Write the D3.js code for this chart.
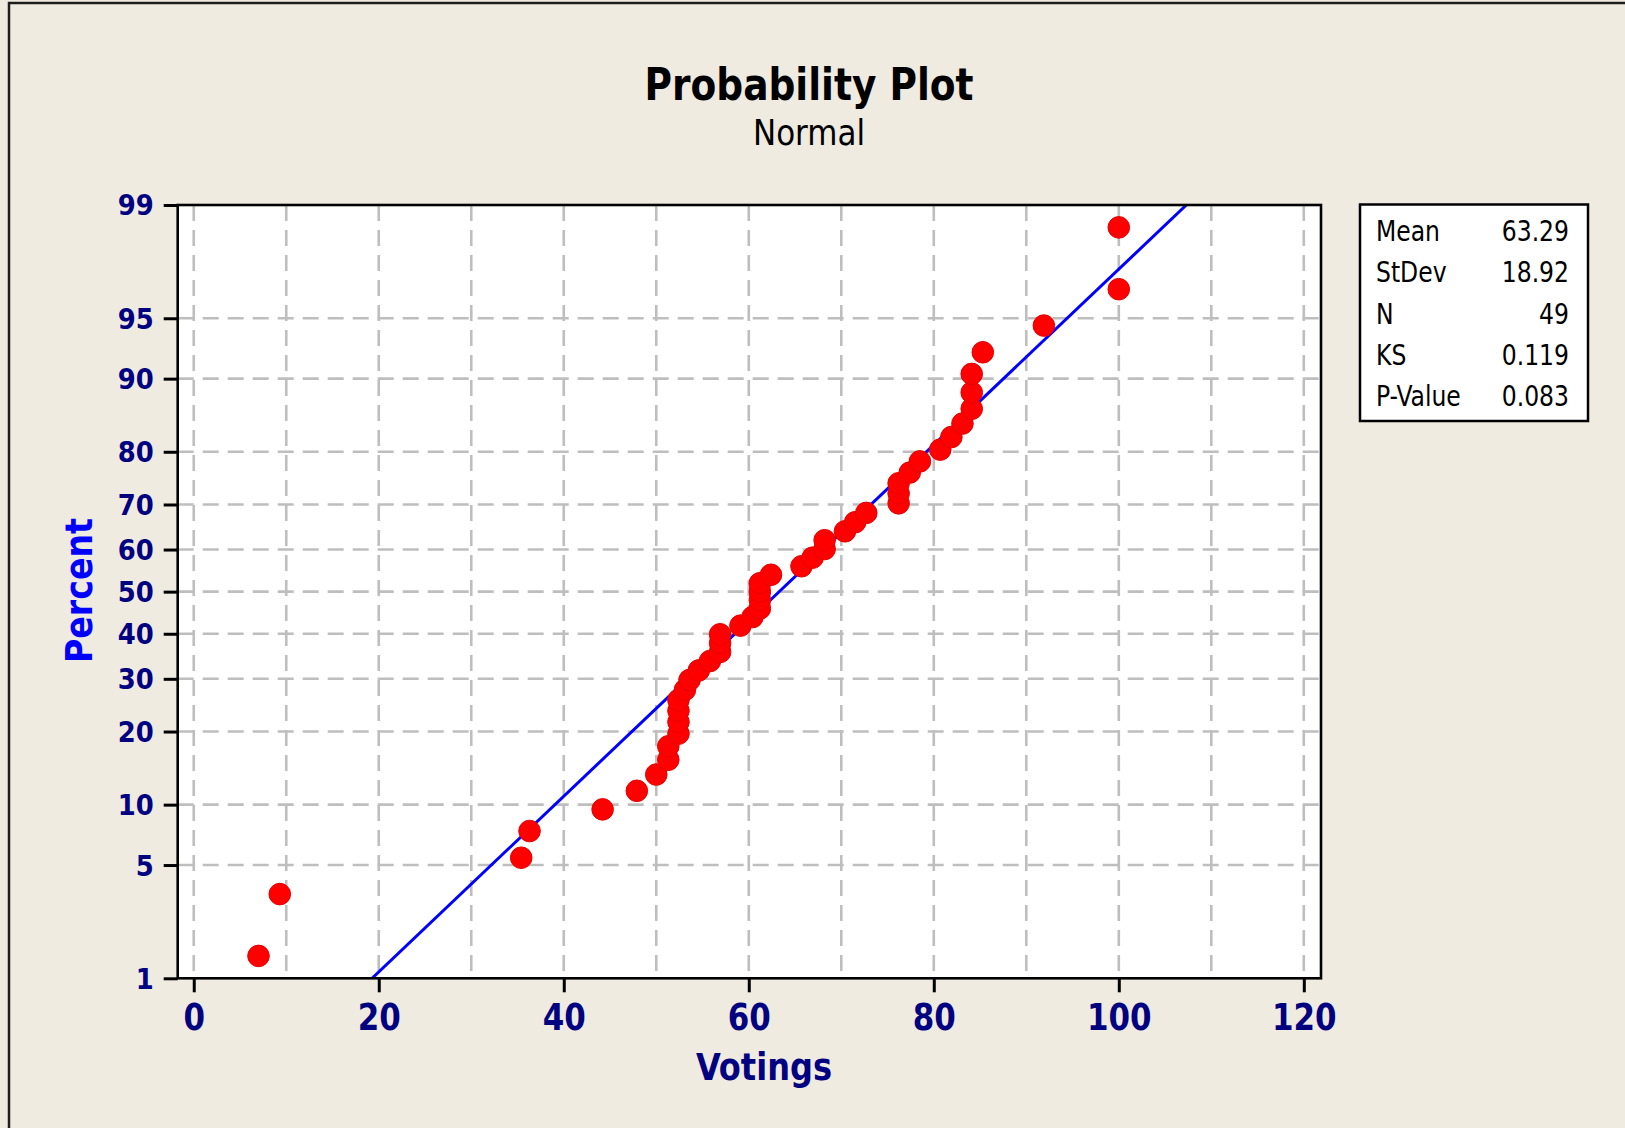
<!DOCTYPE html>
<html>
<head>
<meta charset="utf-8">
<script src="https://cdn.jsdelivr.net/npm/d3@7"></script>
<style>
  html, body { margin: 0; padding: 0; background: #EFEBE1; }
  svg { display: block; }
  text { font-family: Tahoma, "DejaVu Sans Condensed", "DejaVu Sans", sans-serif; }
</style>
</head>
<body>
<script>
// ---------------- DATA ----------------
const votings = [7.0, 9.3, 35.4, 36.3, 44.2, 47.9, 50.0, 51.3, 51.3, 52.4,
                 52.4, 52.4, 52.4, 53.1, 53.6, 54.6, 55.8, 56.9, 56.9, 56.9,
                 59.1, 60.4, 61.2, 61.2, 61.2, 61.2, 62.4, 65.7, 66.9, 68.2,
                 68.2, 70.4, 71.5, 72.7, 76.2, 76.2, 76.2, 77.4, 78.5, 80.7,
                 81.9, 83.1, 84.1, 84.1, 84.1, 85.3, 91.9, 100.0, 100.0];
const percents = [1.42, 3.44, 5.47, 7.49, 9.51, 11.54, 13.56, 15.59, 17.61, 19.64,
                  21.66, 23.68, 25.71, 27.73, 29.76, 31.78, 33.81, 35.83, 37.85, 39.88,
                  41.90, 43.93, 45.95, 47.98, 50.00, 52.02, 54.05, 56.07, 58.10, 60.12,
                  62.15, 64.17, 66.19, 68.22, 70.24, 72.27, 74.29, 76.32, 78.34, 80.36,
                  82.39, 84.41, 86.44, 88.46, 90.49, 92.51, 94.53, 96.56, 98.58];
const percentTicks = [1, 5, 10, 20, 30, 40, 50, 60, 70, 80, 90, 95, 99];
const percentGrid = [5, 10, 20, 30, 40, 50, 60, 70, 80, 90, 95];
const xTicks = [0, 20, 40, 60, 80, 100, 120];
const xGrid = [0, 10, 20, 30, 40, 50, 60, 70, 80, 90, 100, 110, 120];
const statLabels = ["Mean", "StDev", "N", "KS", "P-Value"];
const statValues = ["63.29", "18.92", "49", "0.119", "0.083"];
const fitMean = 63.29, fitStDev = 18.92;
const fitPercents = [1, 99];

// inverse standard normal CDF (Acklam)
function qnorm(p) {
  const a = [-3.969683028665376e+01, 2.209460984245205e+02, -2.759285104469687e+02, 1.383577518672690e+02, -3.066479806614716e+01, 2.506628277459239e+00];
  const b = [-5.447609879822406e+01, 1.615858368580409e+02, -1.556989798598866e+02, 6.680131188771972e+01, -1.328068155288572e+01];
  const c = [-7.784894002430293e-03, -3.223964580411365e-01, -2.400758277161838e+00, -2.549732539343734e+00, 4.374664141464968e+00, 2.938163982698783e+00];
  const d = [7.784695709041462e-03, 3.224671290700398e-01, 2.445134137142996e+00, 3.754408661907416e+00];
  const pl = 0.02425, ph = 1 - pl;
  let q, r;
  if (p < pl) { q = Math.sqrt(-2 * Math.log(p));
    return (((((c[0]*q+c[1])*q+c[2])*q+c[3])*q+c[4])*q+c[5]) / ((((d[0]*q+d[1])*q+d[2])*q+d[3])*q+1); }
  if (p <= ph) { q = p - 0.5; r = q*q;
    return (((((a[0]*r+a[1])*r+a[2])*r+a[3])*r+a[4])*r+a[5])*q / (((((b[0]*r+b[1])*r+b[2])*r+b[3])*r+b[4])*r+1); }
  q = Math.sqrt(-2 * Math.log(1 - p));
  return -(((((c[0]*q+c[1])*q+c[2])*q+c[3])*q+c[4])*q+c[5]) / ((((d[0]*q+d[1])*q+d[2])*q+d[3])*q+1);
}

// ---------------- LAYOUT ----------------
const W = 1625, H = 1128;
const P = { l: 177.7, t: 205, r: 1321, b: 978.3 };
const NAVY = "#000080";

const svg = d3.select("body").append("svg").attr("width", W).attr("height", H);
svg.append("rect").attr("width", W).attr("height", H).attr("fill", "#EFEBE1");
svg.append("rect").attr("x", 9).attr("y", 3).attr("width", 1800).attr("height", 1300)
   .attr("fill", "none").attr("stroke", "#1e1e1e").attr("stroke-width", 2.5);

const x = d3.scaleLinear().domain([0, 120]).range([193.75, 1303.8]);
const z = d3.scaleLinear().domain([qnorm(0.01), qnorm(0.99)]).range([P.b, P.t]);
const yP = p => z(qnorm(p / 100));

// plot area
svg.append("rect").attr("x", P.l).attr("y", P.t).attr("width", P.r - P.l).attr("height", P.b - P.t)
   .attr("fill", "#ffffff");

svg.append("clipPath").attr("id", "clip").append("rect")
   .attr("x", P.l).attr("y", P.t).attr("width", P.r - P.l).attr("height", P.b - P.t);

const grid = svg.append("g").attr("stroke", "#BEBEBE").attr("stroke-width", 2.6)
   .attr("stroke-dasharray", "16,9");
grid.selectAll(".vg").data(xGrid).join("line").attr("class", "vg")
   .attr("x1", d => x(d)).attr("x2", d => x(d)).attr("y1", P.t).attr("y2", P.b);
grid.selectAll(".hg").data(percentGrid).join("line").attr("class", "hg")
   .attr("x1", P.l).attr("x2", P.r).attr("y1", d => yP(d)).attr("y2", d => yP(d));

// fitted line
const line = d3.line().x(d => x(fitMean + fitStDev * qnorm(d / 100))).y(d => yP(d));
svg.append("path").datum(fitPercents).attr("d", line).attr("clip-path", "url(#clip)")
   .attr("fill", "none").attr("stroke", "#0000FF").attr("stroke-width", 3);

// points
svg.append("g").selectAll("circle").data(votings).join("circle")
   .attr("cx", d => x(d)).attr("cy", (d, i) => yP(percents[i])).attr("r", 10.8)
   .attr("fill", "#FF0000").attr("stroke", "#E80000").attr("stroke-width", 1);

// border
svg.append("rect").attr("x", P.l).attr("y", P.t).attr("width", P.r - P.l).attr("height", P.b - P.t)
   .attr("fill", "none").attr("stroke", "#000").attr("stroke-width", 2.6);

// axes
const xAxis = svg.append("g").attr("transform", `translate(0,${P.b})`)
   .call(d3.axisBottom(x).tickValues(xTicks).tickSize(14).tickFormat(d3.format("d")));
xAxis.select(".domain").remove();
xAxis.selectAll("line").attr("stroke", "#000").attr("stroke-width", 3);
xAxis.selectAll("text").attr("dy", null).attr("y", 52).attr("fill", NAVY)
   .attr("font-size", 38).attr("font-weight", "bold");

const yAxis = svg.append("g").attr("transform", `translate(${P.l},0)`)
   .call(d3.axisLeft(z).tickValues(percentTicks.map(p => qnorm(p / 100))).tickSize(14)
         .tickFormat((d, i) => percentTicks[i]));
yAxis.select(".domain").remove();
yAxis.selectAll("line").attr("stroke", "#000").attr("stroke-width", 3);
yAxis.selectAll("text").attr("x", -24).attr("dy", "0.35em").attr("fill", NAVY)
   .attr("font-size", 28.5).attr("font-weight", "bold");

// titles
const title = svg.append("text").attr("x", 809).attr("y", 100).attr("text-anchor", "middle")
   .attr("font-size", 44).attr("font-weight", "bold").attr("fill", "#000").text("Probability Plot");
const sub = svg.append("text").attr("x", 809).attr("y", 144.5).attr("text-anchor", "middle")
   .attr("font-size", 36).attr("fill", "#000").text("Normal");
const xt = svg.append("text").attr("x", 764).attr("y", 1080).attr("text-anchor", "middle")
   .attr("font-size", 37).attr("font-weight", "bold").attr("fill", NAVY).text("Votings");
const yt = svg.append("text").attr("transform", "translate(91.5,590.5) rotate(-90)")
   .attr("text-anchor", "middle").attr("font-size", 37).attr("font-weight", "bold")
   .attr("fill", "#0000FF").text("Percent");

// legend
svg.append("rect").attr("x", 1360).attr("y", 204.5).attr("width", 228).attr("height", 216.5)
   .attr("fill", "#fff").attr("stroke", "#000").attr("stroke-width", 2.5);
const lg = svg.append("g");
const labs = lg.selectAll(".lab").data(statLabels).join("text").attr("class", "lab")
   .attr("x", 1376).attr("y", (d, i) => 241 + i * 41.3).attr("font-size", 29).attr("fill", "#000").text(d => d);
const vals = lg.selectAll(".val").data(statValues).join("text").attr("class", "val")
   .attr("x", 1569).attr("y", (d, i) => 241 + i * 41.3).attr("text-anchor", "end")
   .attr("font-size", 29).attr("fill", "#000").text(d => d);

// width fitting to match the reference's narrow typeface
function fitTo(sel, target) {
  const w = sel.node().getComputedTextLength();
  return target / w;
}
function applyRatio(sel, r) {
  sel.each(function () {
    const w = this.getComputedTextLength();
    d3.select(this).attr("textLength", w * r).attr("lengthAdjust", "spacingAndGlyphs");
  });
}
applyRatio(title, fitTo(title, 329));
applyRatio(sub, fitTo(sub, 112));
applyRatio(xt, fitTo(xt, 136));
applyRatio(yt, fitTo(yt, 145));
const x100 = xAxis.selectAll("text").filter(d => d === 100);
applyRatio(xAxis.selectAll("text"), fitTo(x100, 64.6));
const y99 = yAxis.selectAll("text").filter((d, i) => i === percentTicks.length - 1);
applyRatio(yAxis.selectAll("text"), fitTo(y99, 36));
const rl = fitTo(labs.filter(d => d === "Mean"), 64);
applyRatio(labs, rl);
applyRatio(vals, rl);
</script>
</body>
</html>
